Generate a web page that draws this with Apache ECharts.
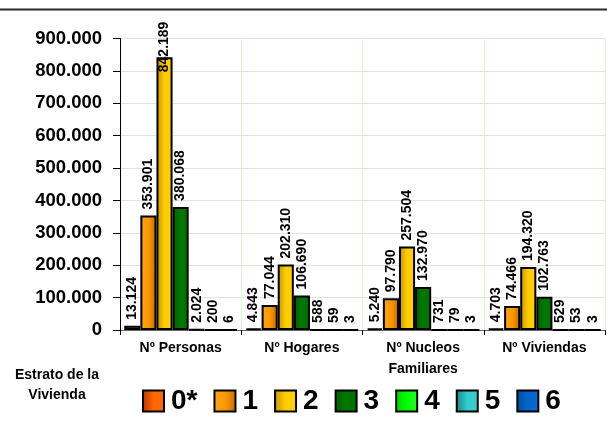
<!DOCTYPE html>
<html>
<head>
<meta charset="utf-8">
<script src="https://cdn.jsdelivr.net/npm/echarts@6/dist/echarts.min.js"></script>
<style>
html,body{margin:0;padding:0;background:#fff;}
#c{width:607px;height:429px;}
</style>
</head>
<body>
<div id="c"></div>
<script>
var categories = ['Nº Personas', 'Nº Hogares', 'Nº Nucleos\nFamiliares', 'Nº Viviendas'];
var seriesNames = ['0*', '1', '2', '3', '4', '5', '6'];
var s0 = [13124, 4843, 5240, 4703];
var s1 = [353901, 77044, 97790, 74466];
var s2 = [842189, 202310, 257504, 194320];
var s3 = [380068, 106690, 132970, 102763];
var s4 = [2024, 588, 731, 529];
var s5 = [200, 59, 79, 53];
var s6 = [6, 3, 3, 3];
var yTicks = [0, 100000, 200000, 300000, 400000, 500000, 600000, 700000, 800000, 900000];

var seriesData = [s0, s1, s2, s3, s4, s5, s6];
var palettes = [
  ['#b83200', '#ff6600', '#ff6a0a'],
  ['#ffa21a', '#ff9900', '#c46c00'],
  ['#c49300', '#ffcc00', '#ffd000'],
  ['#005c00', '#007a00', '#007000'],
  ['#00d800', '#00ff00', '#22ff22'],
  ['#1c8585', '#33cccc', '#36d0d0'],
  ['#004c9c', '#0066cc', '#0a6ad0']
];

function fmt(v) {
  return String(v).replace(/\B(?=(\d{3})+(?!\d))/g, '.');
}
var FONT = 'Arial, "Liberation Sans", sans-serif';

var series = seriesData.map(function (arr, i) {
  var p = palettes[i];
  return {
    name: seriesNames[i],
    type: 'bar',
    barGap: '0%',
    barCategoryGap: '7%',
    data: arr.map(function (v) {
      var item = { value: v };
      if (v === 842189) {
        item.label = { distance: -15 };
      }
      return item;
    }),
    itemStyle: {
      color: new echarts.graphic.LinearGradient(0, 0, 1, 0, [
        { offset: 0, color: p[0] },
        { offset: 0.5, color: p[1] },
        { offset: 1, color: p[2] }
      ]),
      borderColor: '#000',
      borderWidth: 2
    },
    label: {
      show: true,
      position: 'top',
      rotate: 90,
      align: 'left',
      verticalAlign: 'middle',
      distance: 6,
      fontFamily: FONT,
      fontSize: 14,
      fontWeight: 'bold',
      color: '#000',
      formatter: function (p) { return fmt(p.value); }
    }
  };
});

var chart = echarts.init(document.getElementById('c'));
chart.setOption({
  animation: false,
  backgroundColor: '#fff',
  grid: { left: 120, right: 2, top: 38.5, bottom: 99, containLabel: false },
  xAxis: {
    type: 'category',
    data: categories,
    axisLine: { lineStyle: { color: '#666', width: 1 } },
    axisTick: { show: true, length: 5, lineStyle: { color: '#000' } },
    splitLine: { show: true, lineStyle: { color: '#d6f8d6', width: 1 } },
    axisLabel: {
      interval: 0,
      margin: 8,
      fontFamily: FONT,
      fontSize: 14,
      fontWeight: 'bold',
      color: '#000',
      lineHeight: 21
    }
  },
  yAxis: {
    type: 'value',
    min: yTicks[0],
    max: yTicks[yTicks.length - 1],
    interval: yTicks[1] - yTicks[0],
    axisLine: { show: true, lineStyle: { color: '#000', width: 1 } },
    axisTick: { show: true, length: 7, lineStyle: { color: '#000' } },
    splitLine: { show: true, lineStyle: { color: '#e2e2e2', width: 1 } },
    axisLabel: {
      margin: 18,
      fontFamily: FONT,
      fontSize: 18.5,
      fontWeight: 'bold',
      color: '#000',
      formatter: function (v) { return fmt(v); }
    }
  },
  legend: {
    left: 142,
    top: 387,
    padding: 0,
    itemWidth: 21,
    itemHeight: 21,
    itemGap: 16,
    icon: 'rect',
    data: seriesNames,
    textStyle: {
      fontFamily: FONT,
      fontSize: 28,
      fontWeight: 'bold',
      color: '#000',
      padding: [0, 0, 0, 2]
    }
  },
  graphic: [
    {
      type: 'line',
      shape: { x1: 0, y1: 9.5, x2: 607, y2: 9.5 },
      style: { stroke: '#2a2a2a', lineWidth: 2 }
    },
    {
      type: 'text',
      x: 57,
      y: 375,
      style: {
        text: 'Estrato de la',
        fontFamily: FONT,
        fontSize: 14,
        fontWeight: 'bold',
        fill: '#000',
        align: 'center',
        verticalAlign: 'middle'
      }
    },
    {
      type: 'text',
      x: 57,
      y: 395,
      style: {
        text: 'Vivienda',
        fontFamily: FONT,
        fontSize: 14,
        fontWeight: 'bold',
        fill: '#000',
        align: 'center',
        verticalAlign: 'middle'
      }
    }
  ],
  series: series
});
</script>
</body>
</html>
